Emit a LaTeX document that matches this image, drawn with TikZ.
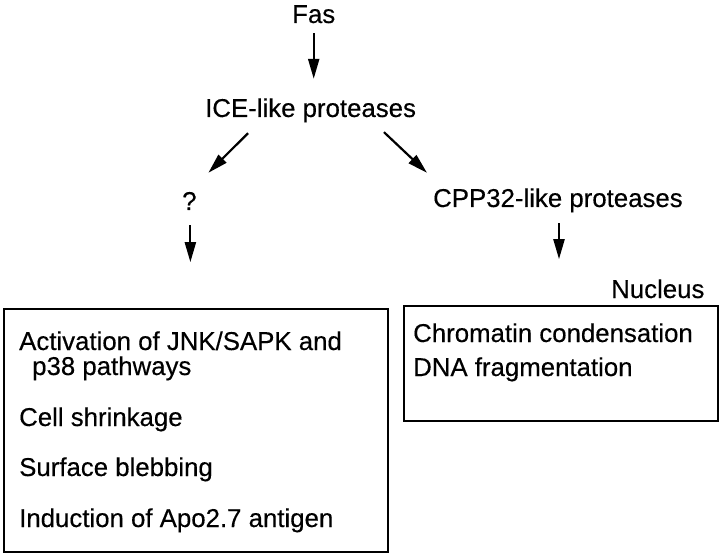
\documentclass[tikz,border=0pt]{standalone}
\usepackage{fontspec}
\setmainfont{Liberation Sans}[UprightFeatures={FakeBold=0.35}]
\usetikzlibrary{arrows.meta,calc}
\begin{document}
\begin{tikzpicture}[x=1pt,y=-1pt,
  lbl/.style={inner sep=0pt,anchor=base west,text height=18pt,text depth=5pt,font=\fontsize{25.8}{30}\selectfont},
  arr/.style={line width=2.2pt,-{Triangle[length=20pt,width=11pt]}},
  frame/.style={draw,line width=2.2pt,inner sep=0pt}]
\useasboundingbox (0,0) rectangle (720,556);
% boxes
\node[frame,anchor=north west,minimum width=384pt,minimum height=243pt] (lbox) at (3,308) {};
\node[frame,anchor=north west,minimum width=314pt,minimum height=115pt] (rbox) at (403,305) {};
% labels
\node[lbl] (fas) at (292,23) {Fas};
\node[lbl] (ice) at (205,117) {ICE-like proteases};
\node[lbl] (q) at (182,210) {?};
\node[lbl] (cpp) at (433,207) {CPP32-like proteases};
\node[lbl] (nuc) at (611,298) {Nucleus};
\node[lbl] (t1) at (19,350) {Activation of JNK/SAPK and};
\node[lbl] (t2) at (32,375) {p38 pathways};
\node[lbl] (t3) at (19,426) {Cell shrinkage};
\node[lbl] (t4) at (19,476) {Surface blebbing};
\node[lbl] (t5) at (19,527) {Induction of Apo2.7 antigen};
\node[lbl] (t6) at (413,342) {Chromatin condensation};
\node[lbl] (t7) at (413,376) {DNA fragmentation};
% arrows
\draw[arr] ($(fas.south)+(0,5)$) -- ($(fas.south |- ice.north)+(0,-20)$);
\draw[arr] ($(ice.south west)+(43,11)$) -- ($(q.north)+(19,-19)$);
\draw[arr] ($(ice.south west)+(179,10)$) -- ($(cpp.north west)+(-6,-16)$);
\draw[arr] ($(q.south)+(1,10)$) -- ($(q.south)+(1,47)$);
\draw[arr] ($(cpp.south west)+(126,11)$) -- ($(cpp.south west)+(126,47)$);
\end{tikzpicture}
\end{document}
